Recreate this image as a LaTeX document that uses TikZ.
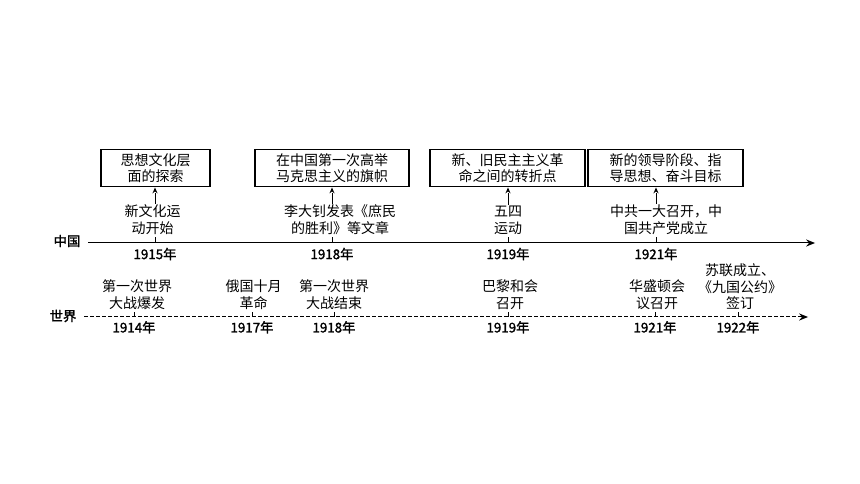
\documentclass[tikz,border=0pt]{standalone}
\usepackage{fontspec}
\setmainfont{Noto Sans CJK SC}
\newfontfamily\heiti{Noto Sans CJK SC}[BoldFont=Noto Sans CJK SC, BoldFeatures={FakeBold=1.6}]
\tikzset{every picture/.style={line width=0.75pt}}
\tikzset{
  evt/.style={inner sep=0.75pt, align=center, font=\fontsize{10.5}{12.3}\selectfont},
  evtbox/.style={draw, line width=0.8pt, inner xsep=2pt, minimum height=24pt, align=center, font=\fontsize{10.5}{12}\selectfont},
  yr/.style={inner sep=0.75pt, font=\heiti\bfseries\fontsize{10}{12}\selectfont},
}

\begin{document}
\begin{tikzpicture}[x=0.75pt,y=0.75pt,yscale=-1,xscale=1]
		\useasboundingbox (0,0) rectangle (860,484);
		
		%axes
		\coordinate (cnL) at (88,243); \coordinate (cnR) at (815,243);
		\coordinate (wdL) at (84,317); \coordinate (wdR) at (808,317);
		\draw (67,241) node [yr] (cn) {中国};
		\draw (63,316) node [yr] (wd) {世界};
		\draw    (cnL) -- ([xshift=-4]cnR) ;
		\draw [shift={(cnR)}, rotate = 180] [fill={rgb, 255:red, 0; green, 0; blue, 0 }  ][line width=0.08]  [draw opacity=0] (9,-3.6) -- (0,0) -- (9,3.6) -- (6,0) -- cycle    ;
		\draw [dash pattern={on 3pt off 1.5pt}]   (wdL) -- ([xshift=-4]wdR) ;
		\draw [shift={(wdR)}, rotate = 180] [fill={rgb, 255:red, 0; green, 0; blue, 0 }  ][line width=0.08]  [draw opacity=0] (9,-3.6) -- (0,0) -- (9,3.6) -- (6,0) -- cycle    ;
		
		%china ticks
		\coordinate (t1) at (155,243); \coordinate (t2) at (332,243);
		\coordinate (t3) at (508,243); \coordinate (t4) at (656,243);
		\draw (t1) -- ++(0,-6) (t2) -- ++(0,-6) (t3) -- ++(0,-6) (t4) -- ++(0,-6) ;
		\draw (t1) node [yr, below=2.5] (y1) {1915年};
		\draw (t2) node [yr, below=2.5] (y2) {1918年};
		\draw (t3) node [yr, below=2.5] (y3) {1919年};
		\draw (t4) node [yr, below=2.5] (y4) {1921年};
		
		\draw (152.5,236) node [evt, anchor=south] (e1) {新文化运\\动开始};
		\draw (340,236) node [evt, anchor=south] (e2) {李大钊发表《庶民\\的胜利》等文章};
		\draw (508,236) node [evt, anchor=south] (e3) {五四\\运动};
		\draw (666,236) node [evt, anchor=south] (e4) {中共一大召开，中\\国共产党成立};
		
		\draw (155.5,168) node [evtbox, minimum width=81.75pt] (b1) {思想文化层\\面的探索};
		\draw (332,168) node [evtbox, minimum width=115.5pt] (b2) {在中国第一次高举\\马克思主义的旗帜};
		\draw (507.5,168) node [evtbox, minimum width=116.25pt] (b3) {新、旧民主主义革\\命之间的转折点};
		\draw (665.5,168) node [evtbox, minimum width=116.25pt] (b4) {新的领导阶段、指\\导思想、奋斗目标};
		
		\draw (t1 |- e1.north) -- ([yshift=4]t1 |- b1.south) ;
		\draw [shift={(t1 |- b1.south)}, rotate = 90] [fill={rgb, 255:red, 0; green, 0; blue, 0 }  ][line width=0.08]  [draw opacity=0] (6,-2.6) -- (0,0) -- (6,2.6) -- (4,0) -- cycle    ;
		\draw (t2 |- e2.north) -- ([yshift=4]t2 |- b2.south) ;
		\draw [shift={(t2 |- b2.south)}, rotate = 90] [fill={rgb, 255:red, 0; green, 0; blue, 0 }  ][line width=0.08]  [draw opacity=0] (6,-2.6) -- (0,0) -- (6,2.6) -- (4,0) -- cycle    ;
		\draw (t3 |- e3.north) -- ([yshift=4]t3 |- b3.south) ;
		\draw [shift={(t3 |- b3.south)}, rotate = 90] [fill={rgb, 255:red, 0; green, 0; blue, 0 }  ][line width=0.08]  [draw opacity=0] (6,-2.6) -- (0,0) -- (6,2.6) -- (4,0) -- cycle    ;
		\draw (t4 |- e4.north) -- ([yshift=4]t4 |- b4.south) ;
		\draw [shift={(t4 |- b4.south)}, rotate = 90] [fill={rgb, 255:red, 0; green, 0; blue, 0 }  ][line width=0.08]  [draw opacity=0] (6,-2.6) -- (0,0) -- (6,2.6) -- (4,0) -- cycle    ;
		
		%world ticks
		\coordinate (s1) at (134,317); \coordinate (s2) at (252,317); \coordinate (s3) at (334,317);
		\coordinate (s4) at (508,317); \coordinate (s5) at (655,317); \coordinate (s6) at (738,317);
		\draw (s1) -- ++(0,-5) (s2) -- ++(0,-5) (s3) -- ++(0,-5) (s4) -- ++(0,-5) (s5) -- ++(0,-5) (s6) -- ++(0,-5) ;
		\draw (s1) node [yr, below=2] (z1) {1914年};
		\draw (s2) node [yr, below=2] (z2) {1917年};
		\draw (s3) node [yr, below=2] (z3) {1918年};
		\draw (s4) node [yr, below=2] (z4) {1919年};
		\draw (s5) node [yr, below=2] (z5) {1921年};
		\draw (s6) node [yr, below=2] (z6) {1922年};
		
		\draw (137,311) node [evt, anchor=south] (w1) {第一次世界\\大战爆发};
		\draw (253.5,311) node [evt, anchor=south] (w2) {俄国十月\\革命};
		\draw (334,311) node [evt, anchor=south] (w3) {第一次世界\\大战结束};
		\draw (510,311) node [evt, anchor=south] (w4) {巴黎和会\\召开};
		\draw (657,311) node [evt, anchor=south] (w5) {华盛顿会\\议召开};
		\draw (740,311) node [evt, anchor=south] (w6) {苏联成立、\\《九国公约》\\签订};
		
	\end{tikzpicture}
\end{document}
